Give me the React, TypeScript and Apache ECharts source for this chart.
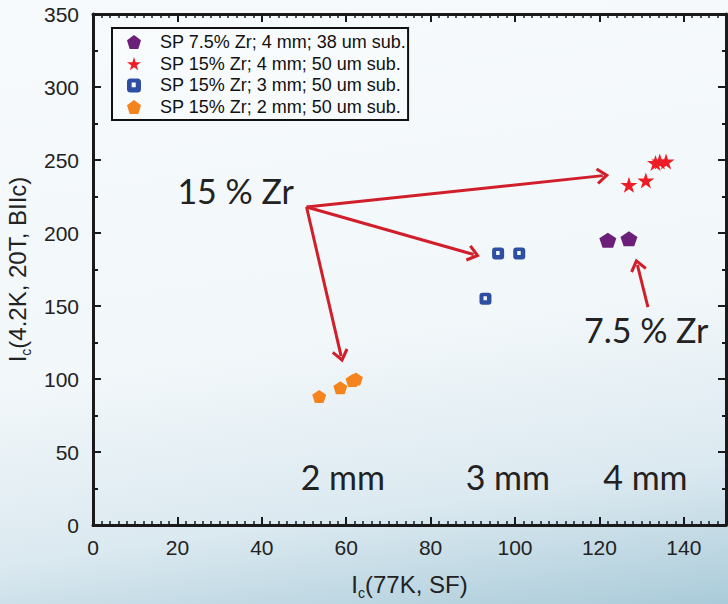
import React, { useEffect, useRef } from "react";
import * as echarts from "echarts";

const seriesNames = [
  "SP 7.5% Zr; 4 mm; 38 um sub.",
  "SP 15% Zr; 4 mm; 50 um sub.",
  "SP 15% Zr; 3 mm; 50 um sub.",
  "SP 15% Zr; 2 mm; 50 um sub.",
];
const purple4mm: [number, number][] = [[122, 195], [127, 196]];
const red4mm: [number, number][] = [[127, 233], [131, 236], [133.3, 248], [134.3, 249], [135.8, 249]];
const blue3mm: [number, number][] = [[93, 155], [96, 186], [101, 186]];
const orange2mm: [number, number][] = [[53.6, 88], [58.6, 94], [61.5, 99], [62.3, 100]];

const xTicks = [0, 150, 20];
const yTicks = [0, 350, 50];

// annotation arrows in data coordinates [from, to]
const arrows: [[number, number], [number, number]][] = [
  [[50.6, 217.8], [120.8, 239.3]],
  [[50.6, 217.8], [90.2, 185.3]],
  [[50.6, 217.8], [58.8, 115.7]],
  [[131.5, 149.3], [129.0, 178.2]],
];
const notes = [
  { text: "15 % Zr", x: 33.8, y: 228.8 },
  { text: "7.5 % Zr", x: 131.1, y: 133.6 },
  { text: "2 mm", x: 59.2, y: 32.9 },
  { text: "3 mm", x: 98.3, y: 32.9 },
  { text: "4 mm", x: 130.9, y: 32.9 },
];

const PENT = "path://M5,0 L10,3.7 L8.1,10 L1.9,10 L0,3.7 Z";
const STAR = "path://M50,0 L61,35 L98,35 L68,57 L79,91 L50,70 L21,91 L32,57 L2,35 L39,35 Z";
const BOX = "path://M3,0 H9 Q12,0 12,3 V9 Q12,12 9,12 H3 Q0,12 0,9 V3 Q0,0 3,0 Z M4,3.5 V7.5 H7.5 V3.5 Z";
const CHEVRON = "path://M8,0 L16,11 L13.8,13 L8,5 L2.2,13 L0,11 Z";

const AX = "Liberation Sans, Arial, sans-serif";

export default function App() {
  const ref = useRef<HTMLDivElement>(null);
  useEffect(() => {
    if (!ref.current) return;
    const chart = echarts.init(ref.current, null, { renderer: "svg" });
    const axisLine = { show: true, onZero: false, lineStyle: { color: "#1a1a1a", width: 3 } };
    const labelFont = { fontFamily: AX, fontSize: 21, color: "#222" };
    const bigFont = "Lato, 'Open Sans', sans-serif";
    const nameRich = {
      i: { fontFamily: AX, fontSize: 24, color: "#222", lineHeight: 26 },
      s: { fontFamily: AX, fontSize: 14, color: "#222", lineHeight: 14, padding: [18, 0, 0, 0] },
    };
    chart.setOption({
      animation: false,
      backgroundColor: "transparent",
      grid: { left: 93, right: 2, top: 14, bottom: 79, containLabel: false, outerBoundsMode: "none" },
      legend: {
        orient: "vertical",
        left: 112,
        top: 28,
        data: seriesNames,
        borderColor: "#111",
        borderWidth: 2,
        borderRadius: 0,
        backgroundColor: "rgba(255,255,255,0.3)",
        padding: [5, 2, 4, 15],
        itemWidth: 14,
        itemHeight: 14,
        itemGap: 3.7,
        textStyle: { fontFamily: AX, fontSize: 18, color: "#111", lineHeight: 18, padding: [0, 0, 0, 14] },
      },
      xAxis: [
        {
          type: "value",
          min: xTicks[0], max: xTicks[1], interval: xTicks[2],
          position: "bottom",
          axisLine,
          axisTick: { show: true, inside: true, length: 8, lineStyle: { color: "#1a1a1a", width: 2 } },
          minorTick: { show: true, splitNumber: 10, length: 4, lineStyle: { color: "#1a1a1a", width: 1.5 } },
          splitLine: { show: false },
          axisLabel: { ...labelFont, margin: 12, showMaxLabel: false },
          name: "{i|I}{s|c}{i|(77K, SF)}",
          nameLocation: "middle",
          nameGap: 46,
          nameTextStyle: { rich: nameRich },
        },
        {
          type: "value",
          min: xTicks[0], max: xTicks[1], interval: xTicks[2],
          position: "top",
          axisLine,
          axisTick: { show: true, inside: true, length: 8, lineStyle: { color: "#1a1a1a", width: 2 } },
          minorTick: { show: true, splitNumber: 10, length: 4, lineStyle: { color: "#1a1a1a", width: 1.5 } },
          splitLine: { show: false },
          axisLabel: { show: false },
        },
      ],
      yAxis: [
        {
          type: "value",
          min: yTicks[0], max: yTicks[1], interval: yTicks[2],
          position: "left",
          axisLine,
          axisTick: { show: true, inside: true, length: 8, lineStyle: { color: "#1a1a1a", width: 2 } },
          minorTick: { show: true, splitNumber: 2, length: 5, lineStyle: { color: "#1a1a1a", width: 2 } },
          splitLine: { show: false },
          axisLabel: { ...labelFont, margin: 14 },
          name: "{i|I}{s|c}{i|(4.2K, 20T, BIIc)}",
          nameLocation: "middle",
          nameGap: 56,
          nameRotate: 90,
          nameTextStyle: { rich: nameRich },
        },
        {
          type: "value",
          min: yTicks[0], max: yTicks[1], interval: yTicks[2],
          position: "right",
          axisLine,
          axisTick: { show: true, inside: true, length: 8, lineStyle: { color: "#1a1a1a", width: 2 } },
          minorTick: { show: true, splitNumber: 2, length: 4, lineStyle: { color: "#1a1a1a", width: 2 } },
          splitLine: { show: false },
          axisLabel: { show: false },
        },
      ],
      series: [
        {
          name: seriesNames[0], type: "scatter", data: purple4mm,
          symbol: PENT, symbolSize: [17, 15], itemStyle: { color: "#6b1f78", opacity: 1 },
        },
        {
          name: seriesNames[1], type: "scatter", data: red4mm,
          symbol: STAR, symbolSize: [17, 16], itemStyle: { color: "#ee1c25", opacity: 1 },
        },
        {
          name: seriesNames[2], type: "scatter", data: blue3mm,
          symbol: BOX, symbolSize: [12, 12], itemStyle: { color: "#2d4ea3", opacity: 1 },
        },
        {
          name: seriesNames[3], type: "scatter", data: orange2mm,
          symbol: PENT, symbolSize: [14, 13], itemStyle: { color: "#f5841f", opacity: 1 },
        },
        {
          name: "annotations", type: "scatter", data: [],
          xAxisIndex: 1,
          yAxisIndex: 1,
          silent: true,
          markLine: {
            silent: true,
            symbol: ["none", CHEVRON],
            symbolSize: [17, 13],
            lineStyle: { color: "#d01f2b", width: 3, type: "solid" },
            label: { show: false },
            data: arrows.map(([a, b]) => [{ coord: a }, { coord: b }]),
          },
          markPoint: {
            silent: true,
            symbol: "rect",
            symbolSize: 1,
            itemStyle: { color: "transparent" },
            label: {
              show: true,
              position: "inside",
              fontFamily: bigFont,
              fontSize: 34,
              color: "#222",
            },
            data: notes.map((n) => ({ coord: [n.x, n.y], value: n.text, label: { formatter: n.text } })),
          },
        },
      ],
    });
    return () => chart.dispose();
  }, []);
  return (
    <div
      style={{
        position: "fixed",
        left: 0,
        top: 0,
        width: 728,
        height: 604,
        background:
          "linear-gradient(172deg, #f6fafc 0%, #f2f7fa 55%, #dbe9f0 80%, #aacbd9 100%)",
      }}
    >
      <div ref={ref} style={{ width: 728, height: 604 }} />
    </div>
  );
}
